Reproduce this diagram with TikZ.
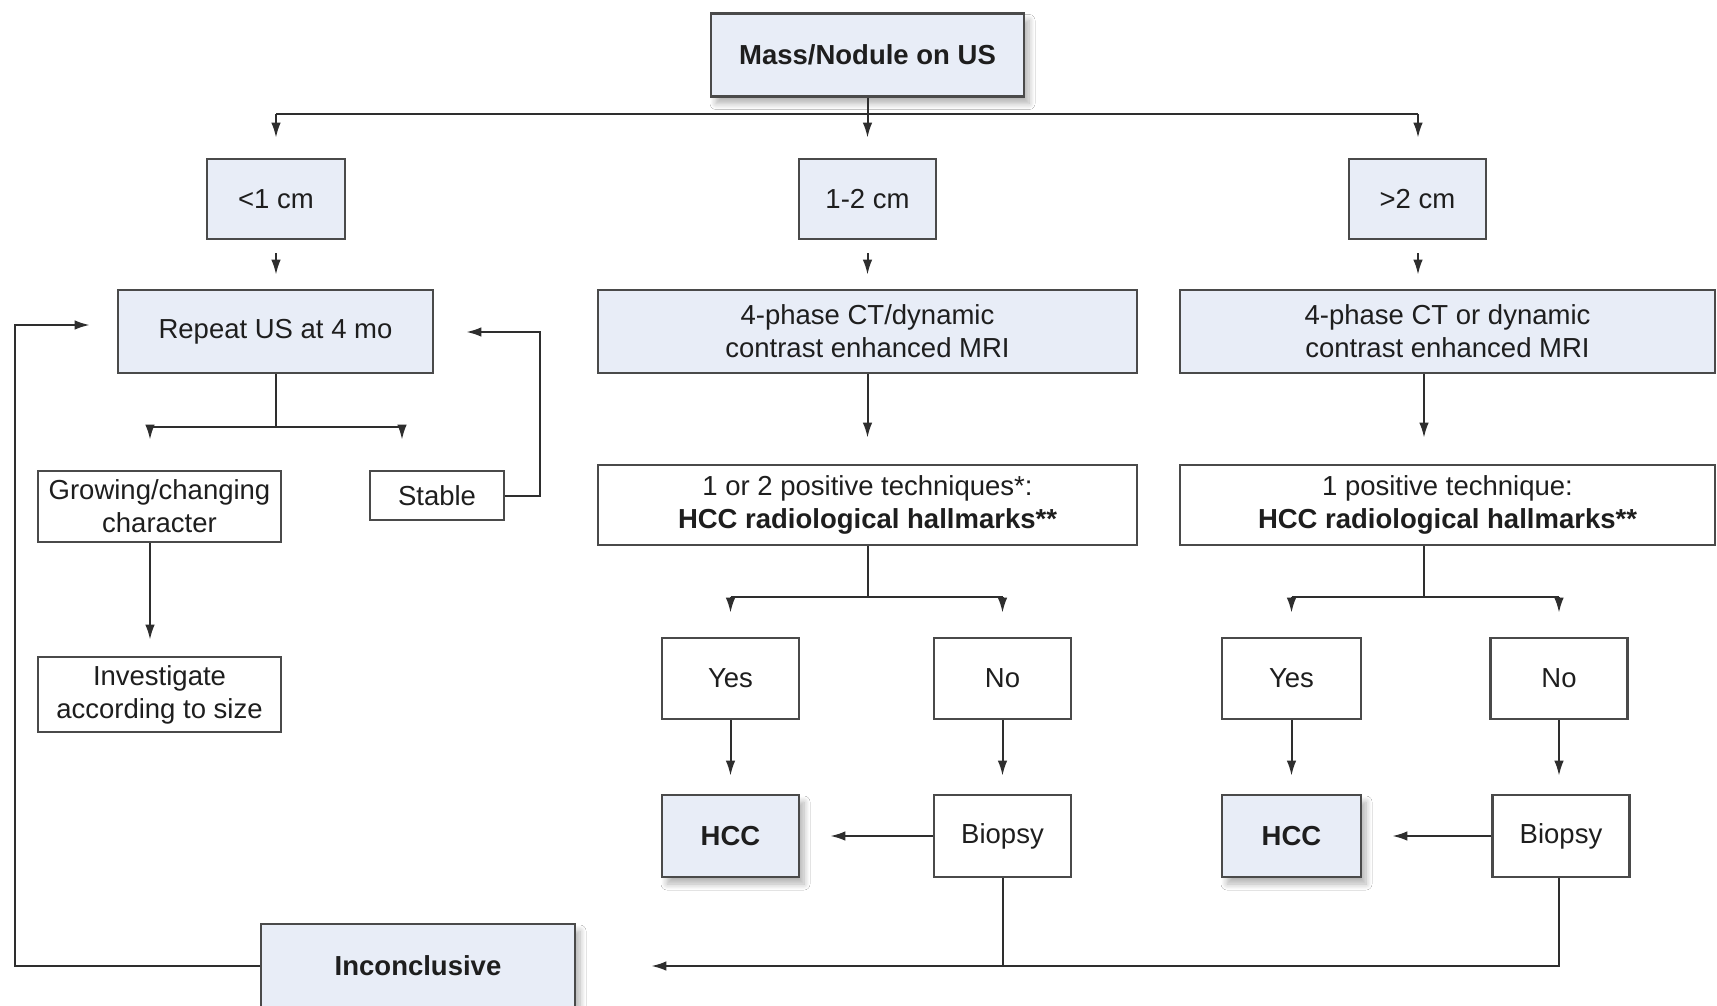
\documentclass[tikz,border=0pt]{standalone}
\usepackage{fontspec}
\setmainfont{Liberation Sans}
\usetikzlibrary{arrows.meta,shadows.blur}
\definecolor{boxfill}{HTML}{E8EDF7}
\definecolor{edge}{HTML}{4A4A4A}
\definecolor{wire}{HTML}{2E2E2E}
\definecolor{ink}{HTML}{1E1E1E}

\begin{document}
\begin{tikzpicture}[x=1pt,y=-1pt,
  card/.style={draw=edge, line width=2.6pt, fill=white, inner sep=0pt,
    align=center, text=ink, font=\fontsize{27.5}{33}\selectfont},
  tint/.style={card, fill=boxfill},
  lifted/.style={blur shadow={shadow xshift=5pt, shadow yshift=-7pt,
    shadow blur radius=6pt, shadow blur steps=8, shadow opacity=30}},
  wireline/.style={draw=wire, line width=2pt},
  arrow/.style={wireline, -{Latex[length=15pt,width=9.5pt]}}
]
\clip (0,0) rectangle (1717,1006);
\fill[white] (0,0) rectangle (1717,1006);

% top level
\node[tint, lifted, minimum width=313pt, minimum height=83pt] (mass) at (867.5,55) {\bfseries Mass/Nodule on US};

% size classes
\node[tint, minimum width=138pt, minimum height=80pt] (lt)  at (276,199)    {<1 cm};
\node[tint, minimum width=137pt, minimum height=80pt] (mid) at (867.5,199)  {1-2 cm};
\node[tint, minimum width=137pt, minimum height=80pt] (gt)  at (1417.5,199) {>2 cm};

% second row
\node[tint, minimum width=315pt, minimum height=83pt] (rep) at (275.5,331.5) {Repeat US at 4 mo};
\node[tint, minimum width=539pt, minimum height=83pt] (ct1) at (867.5,331.5) {4-phase CT/dynamic\\contrast enhanced MRI};
\node[tint, minimum width=535pt, minimum height=83pt] (ct2) at (1447.5,331.5) {4-phase CT or dynamic\\contrast enhanced MRI};

% third row
\node[card, minimum width=243pt, minimum height=71pt] (grow) at (159.5,506.5) {Growing/changing\\character};
\node[card, minimum width=134pt, minimum height=49pt] (stab) at (437,495.5) {Stable};
\node[card, minimum width=539pt, minimum height=80pt] (pos1) at (867.5,505) {1 or 2 positive techniques*:\\\textbf{HCC radiological hallmarks**}};
\node[card, minimum width=535pt, minimum height=80pt] (pos2) at (1447.5,505) {1 positive technique:\\\textbf{HCC radiological hallmarks**}};

% answers
\node[card, minimum width=243pt, minimum height=75pt] (inv) at (159.5,694.5) {Investigate\\according to size};
\node[card, minimum width=137pt, minimum height=81pt] (yes1) at (730.5,678.5)  {Yes};
\node[card, minimum width=137pt, minimum height=81pt] (no1)  at (1002.5,678.5) {No};
\node[card, minimum width=139pt, minimum height=81pt] (yes2) at (1291.5,678.5) {Yes};
\node[card, minimum width=137pt, minimum height=81pt] (no2)  at (1559,678.5)   {No};

% outcomes
\node[tint, lifted, minimum width=137pt, minimum height=82pt] (hcc1) at (730.5,836)  {\bfseries HCC};
\node[card, minimum width=137pt, minimum height=82pt] (bio1) at (1002.5,836) {Biopsy};
\node[tint, lifted, minimum width=139pt, minimum height=82pt] (hcc2) at (1291.5,836) {\bfseries HCC};
\node[card, minimum width=137pt, minimum height=82pt] (bio2) at (1561,836)   {Biopsy};
\node[tint, lifted, minimum width=314pt, minimum height=84pt] (inc) at (418,966) {\bfseries Inconclusive};

% junction points
\coordinate (hub)  at (867.5,114);
\coordinate (tapL) at (276,114);
\coordinate (tapR) at (1418,114);
\coordinate (spine) at (1424,0);
\coordinate (f1)   at (867.5,597);
\coordinate (f2)   at (1424,597);
\coordinate (rj)   at (275.5,427);
\coordinate (r1)   at (150,427);
\coordinate (r2)   at (402,427);
\coordinate (loopin)  at (15,325);
\coordinate (loopout) at (540,332);

% fan-out from the top
\draw[wireline] (mass.south) -- (hub);
\draw[wireline] (tapL) -- (tapR);
\draw[arrow, shorten >=20pt] (tapL) -- (tapL |- lt.north);
\draw[arrow, shorten >=20pt] (hub) -- (mid.north);
\draw[arrow, shorten >=20pt] (tapR) -- (tapR |- gt.north);

% size class to imaging
\draw[arrow, shorten <=13pt, shorten >=14pt] (lt.south) -- (lt.south |- rep.north);
\draw[arrow, shorten <=13pt, shorten >=14pt] (mid.south) -- (mid.south |- ct1.north);
\draw[arrow, shorten <=13pt, shorten >=14pt] (tapR |- gt.south) -- (tapR |- ct2.north);

% imaging to hallmarks
\draw[arrow, shorten >=26pt] (ct1.south) -- (pos1.north);
\draw[arrow, shorten >=26pt] (ct2.south -| spine) -- (pos2.north -| spine);

% hallmark forks
\draw[wireline] (pos1.south) -- (f1);
\draw[wireline] (f1 -| yes1) -- (f1 -| no1);
\draw[arrow, shorten >=24pt] (f1 -| yes1) -- (yes1.north);
\draw[arrow, shorten >=24pt] (f1 -| no1) -- (no1.north);
\draw[wireline] (pos2.south -| spine) -- (f2);
\draw[wireline] (f2 -| yes2) -- (f2 -| no2);
\draw[arrow, shorten >=24pt] (f2 -| yes2) -- (yes2.north);
\draw[arrow, shorten >=24pt] (f2 -| no2) -- (no2.north);

% answers to outcomes
\draw[arrow, shorten >=18pt] (yes1.south) -- (hcc1.north);
\draw[arrow, shorten >=18pt] (no1.south) -- (bio1.north);
\draw[arrow, shorten >=18pt] (yes2.south) -- (hcc2.north);
\draw[arrow, shorten >=18pt] (no2.south) -- (no2.south |- bio2.north);
\draw[arrow, shorten >=30pt] (bio1.west) -- (hcc1.east);
\draw[arrow, shorten >=30pt] (bio2.west) -- (hcc2.east);

% biopsy results back to inconclusive
\draw[wireline] (bio1.south) -- (bio1.south |- inc);
\draw[arrow, shorten >=75pt] (no2.south |- bio2.south) |- (inc.east);

% small nodule branch
\draw[wireline] (rep.south) -- (rj);
\draw[wireline] (r1) -- (r2);
\draw[arrow, shorten >=30pt] (r1) -- (r1 |- grow.north);
\draw[arrow, shorten >=30pt] (r2) -- (r2 |- stab.north);
\draw[arrow, shorten >=16pt] (grow.south -| r1) -- (inv.north -| r1);

% loops back to repeat imaging
\draw[arrow, shorten >=32pt] (stab.east) -| (loopout) -- (loopout -| rep.east);
\draw[arrow, shorten >=27pt] (inc.west) -| (loopin) -- (loopin -| rep.west);
\end{tikzpicture}
\end{document}
